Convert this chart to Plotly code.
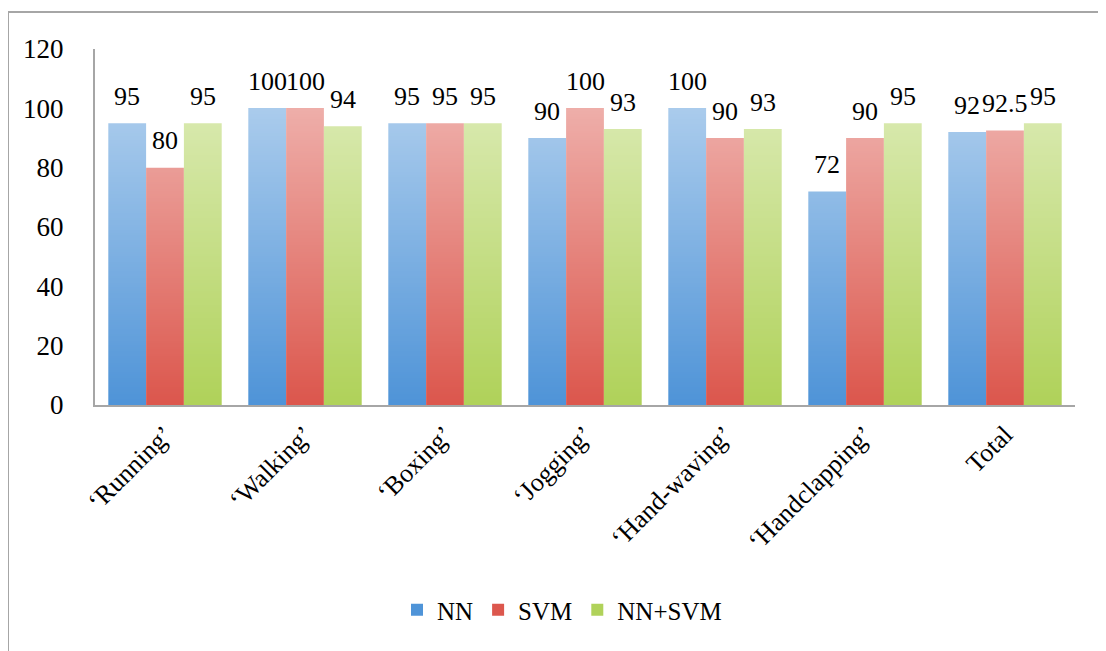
import zlib, struct, base64
import plotly.graph_objects as go

categories = ["\u2018Running\u2019", "\u2018Walking\u2019", "\u2018Boxing\u2019", "\u2018Jogging\u2019",
              "\u2018Hand-waving\u2019", "\u2018Handclapping\u2019", "Total"]
nn = [95, 100, 95, 90, 100, 72, 92]
svm = [80, 100, 95, 100, 90, 90, 92.5]
nn_svm = [95, 94, 95, 93, 93, 95, 95]
series_names = ["NN", "SVM", "NN+SVM"]
y_ticks = [0, 20, 40, 60, 80, 100, 120]

colors = ["#4f94d8", "#dc574d", "#b0d25a"]
FONT = "Liberation Serif"

W, H = 1106, 651
OFF = 8  # page body margin
# plot area in page pixels
PX0, PX1, PY0, PY1 = 95, 1075, 49, 405
ML, MT = PX0 - OFF, PY0 - OFF
plot_w = PX1 - PX0
plot_h = PY1 - PY0
MR = W - ML - plot_w
MB = H - MT - plot_h
bargap = 0.19
bar_px = plot_w / len(categories) * (1 - bargap) / 3


def px_to_paper_x(px):
    return (px - PX0) / plot_w


def px_to_paper_y(py):
    return (PY1 - py) / plot_h


def grad_png(n=256, amax=0.52):
    raw = b""
    for i in range(n):
        a = int(round(255 * amax * (1 - i / (n - 1))))
        raw += b"\x00" + bytes([255, 255, 255, a])

    def chunk(t, d):
        c = struct.pack(">I", len(d)) + t + d
        return c + struct.pack(">I", zlib.crc32(t + d) & 0xffffffff)

    png = b"\x89PNG\r\n\x1a\n"
    png += chunk(b"IHDR", struct.pack(">IIBBBBB", 1, n, 8, 6, 0, 0, 0))
    png += chunk(b"IDAT", zlib.compress(raw))
    png += chunk(b"IEND", b"")
    return "data:image/png;base64," + base64.b64encode(png).decode()


fig = go.Figure()
all_series = [nn, svm, nn_svm]
for name, vals, col in zip(series_names, all_series, colors):
    fig.add_trace(go.Bar(x=categories, y=vals, name=name, marker=dict(color=col, line=dict(width=0))))

annotations = []
for i, vals in enumerate(all_series):
    for c, v in zip(categories, vals):
        annotations.append(dict(x=c, y=v, xref="x", yref="y", text=str(v), showarrow=False,
                                xshift=(i - 1) * bar_px, yshift=27, yanchor="middle",
                                font=dict(family=FONT, size=26, color="black")))

frame_col = "#a6a6a6"
shapes = [dict(type="rect", xref="paper", yref="paper",
               x0=px_to_paper_x(8), x1=px_to_paper_x(W + 20),
               y0=px_to_paper_y(H + 20), y1=px_to_paper_y(12),
               line=dict(color=frame_col, width=2), fillcolor="rgba(0,0,0,0)")]

fig.update_layout(
    width=W, height=H,
    margin=dict(l=ML, r=MR, t=MT, b=MB, autoexpand=False),
    paper_bgcolor="white", plot_bgcolor="white",
    barmode="group", bargap=bargap, bargroupgap=0,
    font=dict(family=FONT, size=26, color="black"),
    showlegend=True,
    legend=dict(orientation="h", x=px_to_paper_x(562), xanchor="center", y=px_to_paper_y(610), yanchor="middle",
                font=dict(family=FONT, size=25), traceorder="normal", itemwidth=30),
    annotations=annotations,
    shapes=shapes,
    images=[dict(source=grad_png(), xref="paper", yref="y", x=0.006, y=100, sizex=0.99, sizey=100,
                 xanchor="left", yanchor="top", sizing="stretch", layer="above")],
    xaxis=dict(showline=True, linecolor=frame_col, linewidth=2, showgrid=False, ticks="",
               tickangle=-45, tickfont=dict(family=FONT, size=26), ticklabelstandoff=2),
    yaxis=dict(range=[0, 120], tickvals=y_ticks, showline=True, linecolor=frame_col, linewidth=2,
               showgrid=False, zeroline=False, ticks="", tickfont=dict(family=FONT, size=27),
               ticklabelstandoff=24),
)

fig.write_html("out.html")
